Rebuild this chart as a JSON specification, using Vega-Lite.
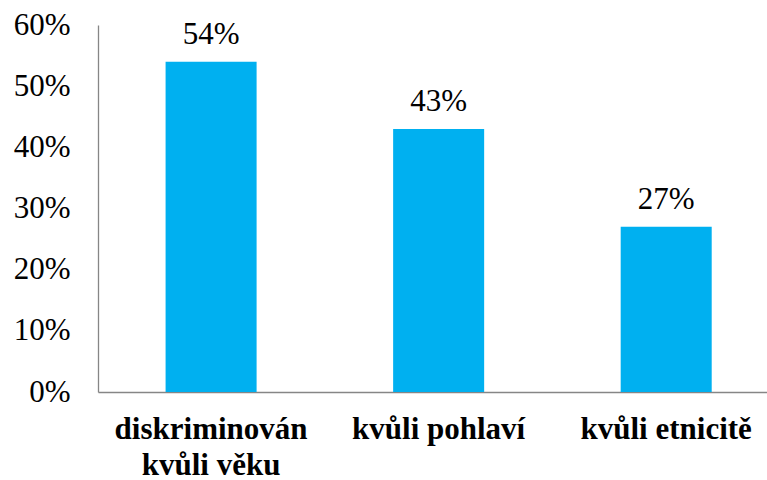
{
  "$schema": "https://vega.github.io/schema/vega-lite/v6.json",
  "autosize": "none",
  "width": 669,
  "height": 367,
  "padding": {"left": 98, "top": 25, "right": 0, "bottom": 88},
  "background": "white",
  "config": {"view": {"stroke": null}, "font": "Liberation Serif"},
  "data": {"values": [
    {"kategorie": "diskriminován|kvůli věku", "podil": 0.54},
    {"kategorie": "kvůli pohlaví", "podil": 0.43},
    {"kategorie": "kvůli etnicitě", "podil": 0.27}
  ]},
  "encoding": {
    "x": {
      "field": "kategorie", "type": "nominal", "sort": null,
      "scale": {"paddingInner": 0.6, "paddingOuter": 0.27, "align": 0.55},
      "axis": {
        "title": null, "labelAngle": 0, "ticks": false,
        "labelExpr": "split(datum.value, '|')",
        "labelFont": "Liberation Serif", "labelFontSize": 31, "labelFontWeight": "bold",
        "labelColor": "black", "labelPadding": 22, "labelLineHeight": 36, "labelLimit": 400,
        "labelBaseline": "top",
        "domainColor": "#868686", "domainWidth": 1.3
      }
    },
    "y": {
      "field": "podil", "type": "quantitative",
      "scale": {"domain": [0, 0.6], "nice": false},
      "axis": {
        "title": null, "format": ".0%", "values": [0, 0.1, 0.2, 0.3, 0.4, 0.5, 0.6],
        "ticks": false, "grid": false,
        "labelFont": "Liberation Serif", "labelFontSize": 31, "labelColor": "black", "labelFontWeight": "normal",
        "labelPadding": 28,
        "domainColor": "#868686", "domainWidth": 1.3
      }
    }
  },
  "layer": [
    {"mark": {"type": "bar", "color": "#00B0F0"}},
    {
      "mark": {"type": "text", "font": "Liberation Serif", "fontWeight": "normal", "fontSize": 31, "color": "black", "baseline": "alphabetic", "dy": -18},
      "encoding": {"text": {"field": "podil", "type": "quantitative", "format": ".0%"}}
    }
  ]
}
